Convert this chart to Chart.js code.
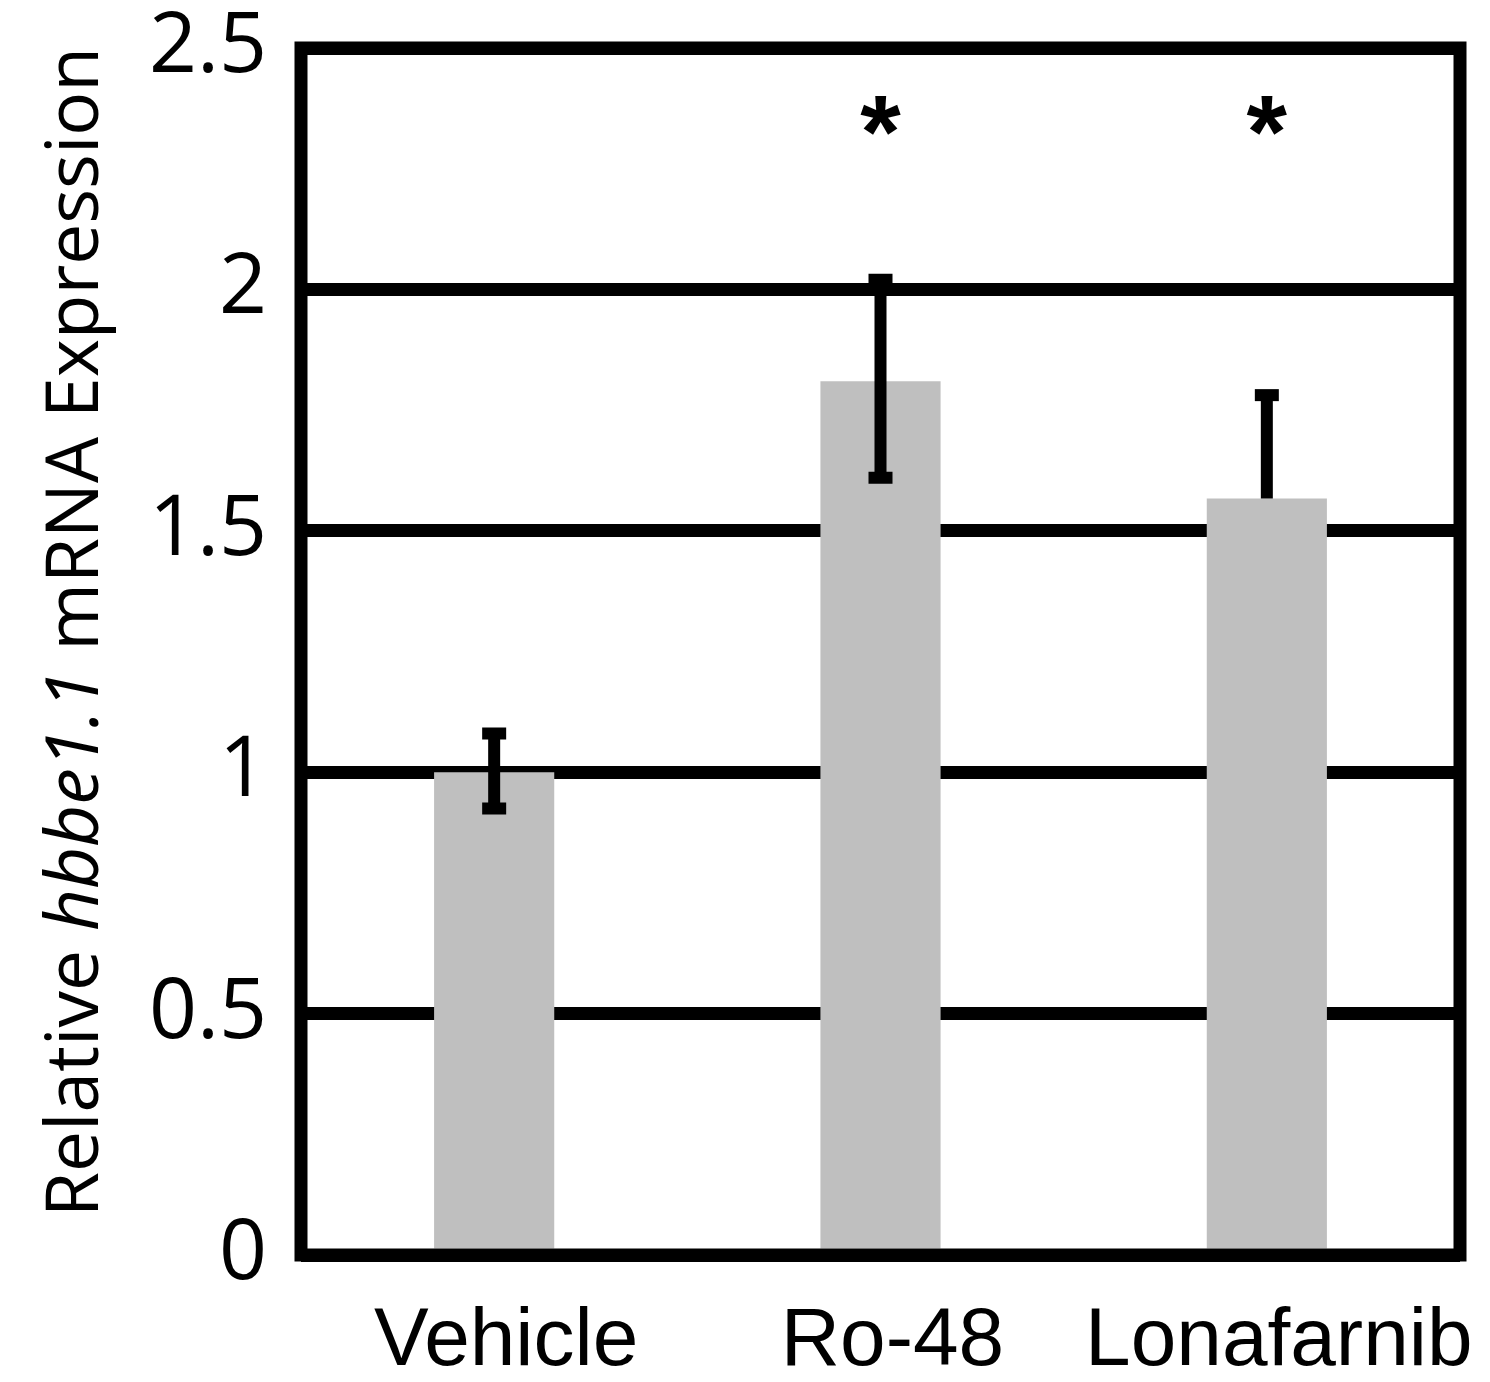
<!DOCTYPE html>
<html lang="en">
<head>
<meta charset="UTF-8">
<title>Relative hbbe1.1 mRNA Expression</title>
<script src="https://cdn.jsdelivr.net/npm/chart.js"></script>
<style>
  html, body { margin: 0; padding: 0; background: #fff; }
  #wrap { width: 1490px; height: 1382px; }
</style>
</head>
<body>
<div id="wrap"><canvas id="chart"></canvas></div>
<script>
  const categories = ['Vehicle', 'Ro-48', 'Lonafarnib'];
  const expression = [1.0, 1.81, 1.567];
  const errUp = [0.08, 0.21, 0.214];
  const errDown = [0.075, 0.2, 0];
  const significance = ['', '*', '*'];
  const yTicks = [0, 0.5, 1, 1.5, 2, 2.5];
  const starLevel = 2.36;

  // error bars + frame on top of the bars
  const errorBars = {
    id: 'errorBars',
    afterDatasetsDraw(chart) {
      const { ctx, chartArea, scales: { x, y } } = chart;
      ctx.save();
      ctx.strokeStyle = '#000';
      ctx.lineCap = 'butt';
      expression.forEach((v, i) => {
        const cx = x.getPixelForValue(i);
        const top = y.getPixelForValue(v + errUp[i]);
        const bot = y.getPixelForValue(v - errDown[i]);
        ctx.lineWidth = 12;
        ctx.beginPath();
        ctx.moveTo(cx, bot);
        ctx.lineTo(cx, top);
        ctx.stroke();
        ctx.beginPath();
        ctx.moveTo(cx - 12, top);
        ctx.lineTo(cx + 12, top);
        if (errDown[i] > 0) {
          ctx.moveTo(cx - 12, bot);
          ctx.lineTo(cx + 12, bot);
        }
        ctx.stroke();
      });

      // asterisks
      ctx.fillStyle = '#000';
      ctx.font = 'bold 104px "Liberation Sans", Arial, sans-serif';
      ctx.textAlign = 'center';
      ctx.textBaseline = 'alphabetic';
      significance.forEach((s, i) => {
        if (!s) return;
        const m = ctx.measureText(s);
        const cy = y.getPixelForValue(starLevel);
        ctx.fillText(s, x.getPixelForValue(i), cy + (m.actualBoundingBoxAscent - m.actualBoundingBoxDescent) / 2);
      });

      // box frame
      ctx.lineWidth = 13;
      ctx.strokeRect(chartArea.left, chartArea.top, chartArea.right - chartArea.left, chartArea.bottom - chartArea.top);
      ctx.restore();
    }
  };

  // y title with italic gene name
  const yTitle = {
    id: 'yTitle',
    afterDraw(chart) {
      const { ctx } = chart;
      const parts = [
        ['Relative ', 'normal'],
        ['hbbe1.1', 'italic'],
        [' mRNA Expression', 'normal']
      ];
      const size = 73;
      ctx.save();
      ctx.fillStyle = '#000';
      ctx.textBaseline = 'alphabetic';
      ctx.textAlign = 'left';
      let total = 0;
      parts.forEach(p => {
        ctx.font = p[1] + ' ' + size + 'px "Open Sans", sans-serif';
        total += ctx.measureText(p[0]).width;
      });
      ctx.translate(98, 632);
      ctx.rotate(-Math.PI / 2);
      let xPos = -total / 2;
      parts.forEach(p => {
        ctx.font = p[1] + ' ' + size + 'px "Open Sans", sans-serif';
        ctx.fillText(p[0], xPos, 0);
        xPos += ctx.measureText(p[0]).width;
      });
      ctx.restore();
    }
  };

  new Chart(document.getElementById('chart'), {
    type: 'bar',
    data: {
      labels: categories,
      datasets: [{
        data: expression,
        backgroundColor: '#bfbfbf',
        borderWidth: 0,
        categoryPercentage: 1,
        barPercentage: 0.311
      }]
    },
    options: {
      responsive: true,
      maintainAspectRatio: false,
      animation: false,
      layout: { padding: { top: 48, right: 30, left: 0, bottom: 0 } },
      plugins: {
        legend: { display: false },
        tooltip: { enabled: false }
      },
      scales: {
        x: {
          grid: { display: false, drawTicks: false },
          border: { display: false },
          ticks: {
            color: '#000',
            padding: 38,
            labelOffset: 12,
            maxRotation: 0,
            minRotation: 0,
            autoSkip: false,
            font: { family: '"Liberation Sans", Arial, sans-serif', size: 82 }
          },
          afterFit(s) {
            s.height = 127;
            s.paddingLeft = 0;
            s.paddingRight = 0;
          }
        },
        y: {
          min: 0,
          max: 2.5,
          afterBuildTicks(s) { s.ticks = yTicks.map(v => ({ value: v })); },
          grid: { color: '#000', lineWidth: 13, drawTicks: false },
          border: { display: false },
          ticks: {
            color: '#000',
            padding: 34,
            callback: v => String(v),
            font: { family: '"Open Sans", sans-serif', size: 84 }
          },
          afterFit(s) {
            s.width = 301;
            s.paddingTop = 0;
            s.paddingBottom = 0;
          }
        }
      }
    },
    plugins: [errorBars, yTitle]
  });
</script>
</body>
</html>
